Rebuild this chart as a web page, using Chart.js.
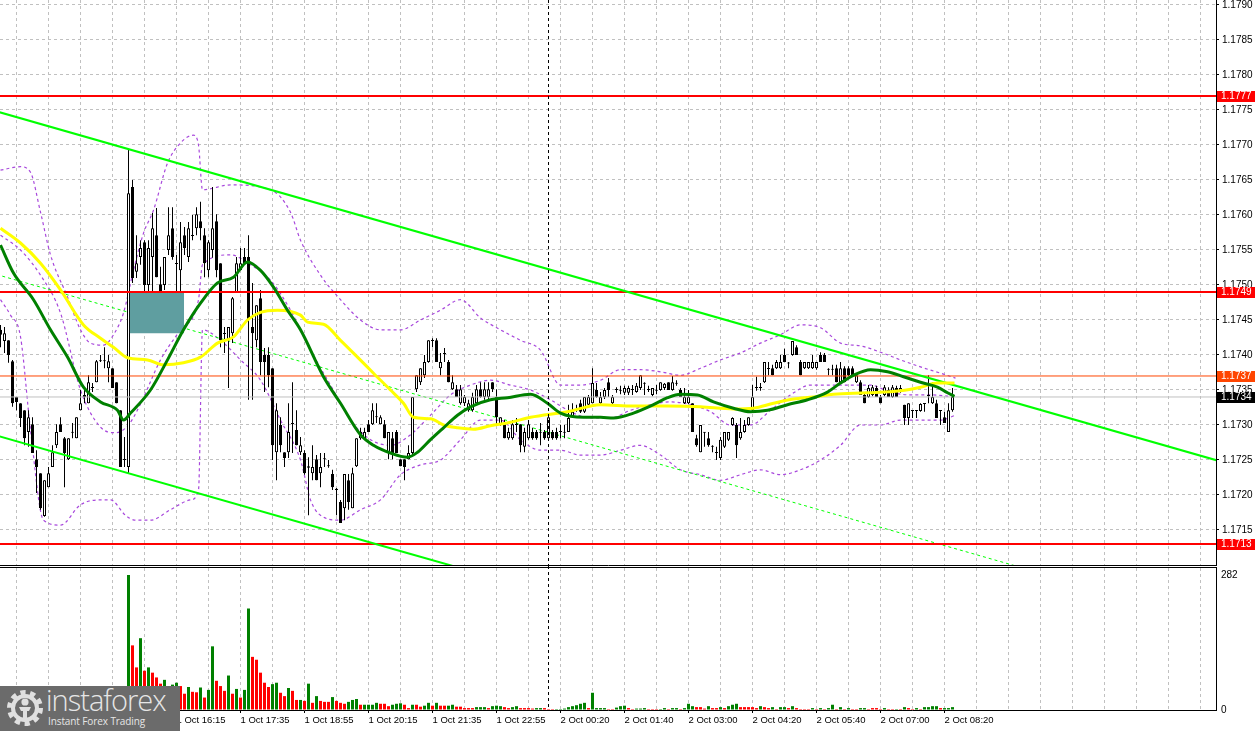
<!DOCTYPE html>
<html><head><meta charset="utf-8">
<script src="https://cdn.jsdelivr.net/npm/chart.js@4.4.1/dist/chart.umd.min.js"></script>
<style>
html,body{margin:0;padding:0;background:#fff;width:1257px;height:731px;overflow:hidden;}
#wrap{position:relative;width:1257px;height:731px;}
#pc{position:absolute;left:0;top:0;}
#vc{position:absolute;left:0;top:566px;}
#logo{position:absolute;left:0;top:686px;width:180px;height:45px;background:#6b6b6b;color:#e6e6e6;font-family:"Open Sans","Lato",sans-serif;overflow:hidden;}
#logo svg{position:absolute;left:5px;top:2px;}
#logo .big{position:absolute;left:46px;top:-3px;font-size:29px;letter-spacing:-1px;font-weight:300;line-height:34px;}
#logo .small{position:absolute;left:48px;top:29px;font-size:10px;letter-spacing:-0.1px;line-height:13px;}
</style></head><body>
<div id="wrap">
<canvas id="pc" width="1257" height="566"></canvas>
<canvas id="vc" width="1257" height="165"></canvas>
<div id="logo">
<svg width="40" height="40" viewBox="0 0 40 40">
<circle cx="20" cy="20" r="15" fill="none" stroke="#e0e0e0" stroke-width="6" stroke-dasharray="5 4.4"/>
<circle cx="20" cy="20" r="12" fill="none" stroke="#e0e0e0" stroke-width="4"/>
<circle cx="20" cy="14" r="3.6" fill="#e0e0e0"/>
<path d="M14 19 h12 l-2 4 h-2 v9 h-4 v-9 h-2 z" fill="#e0e0e0"/>
</svg>
<div class="big">instaforex</div>
<div class="small">Instant Forex Trading</div>
</div>
</div>
<script>
// ---------- data ----------
const candleOpen = [
1.17436,1.17420,1.17421,1.17391,1.17340,1.17331,1.17321,1.17290,1.17301,1.17251,
1.17231,1.17170,1.17211,1.17240,1.17271,1.17301,1.17281,1.17251,1.17290,1.17281,
1.17321,1.17340,1.17331,1.17353,1.17361,1.17391,1.17391,1.17381,1.17381,1.17361,
1.17321,1.17251,1.17240,1.17640,1.17519,1.17540,1.17561,1.17500,1.17540,1.17571,
1.17501,1.17500,1.17550,1.17581,1.17531,1.17521,1.17571,1.17540,1.17571,1.17581,
1.17591,1.17571,1.17521,1.17550,1.17591,1.17531,1.17431,1.17421,1.17431,1.17490,
1.17521,1.17540,1.17540,1.17440,1.17421,1.17481,1.17400,1.17400,1.17381,1.17261,
1.17300,1.17261,1.17261,1.17303,1.17293,1.17261,1.17260,1.17239,1.17231,1.17251,
1.17231,1.17251,1.17241,1.17230,1.17209,1.17190,1.17181,1.17221,1.17181,1.17241,
1.17281,1.17281,1.17301,1.17301,1.17311,1.17301,1.17301,1.17260,1.17281,1.17290,
1.17251,1.17251,1.17251,1.17260,1.17351,1.17361,1.17371,1.17390,1.17421,1.17421,
1.17381,1.17403,1.17390,1.17351,1.17351,1.17331,1.17331,1.17321,1.17321,1.17331,
1.17351,1.17340,1.17340,1.17361,1.17340,1.17301,1.17301,1.17281,1.17281,1.17300,
1.17301,1.17269,1.17281,1.17290,1.17290,1.17290,1.17290,1.17281,1.17290,1.17290,
1.17290,1.17289,1.17290,1.17311,1.17321,1.17331,1.17319,1.17329,1.17331,1.17350,
1.17331,1.17340,1.17361,1.17331,1.17350,1.17350,1.17346,1.17346,1.17350,1.17347,
1.17353,1.17360,1.17350,1.17343,1.17350,1.17350,1.17353,1.17361,1.17350,1.17360,
1.17350,1.17331,1.17331,1.17331,1.17281,1.17261,1.17290,1.17281,1.17270,1.17261,
1.17253,1.17269,1.17279,1.17300,1.17300,1.17281,1.17290,1.17300,1.17321,1.17353,
1.17353,1.17361,1.17381,1.17381,1.17381,1.17381,1.17400,1.17389,1.17400,1.17411,
1.17390,1.17381,1.17381,1.17381,1.17381,1.17400,1.17400,1.17379,1.17379,1.17381,
1.17361,1.17381,1.17381,1.17381,1.17361,1.17361,1.17343,1.17340,1.17343,1.17353,
1.17340,1.17343,1.17350,1.17340,1.17353,1.17347,1.17329,1.17310,1.17321,1.17321,
1.17320,1.17330,1.17343,1.17331,1.17331,1.17321,1.17311,1.17290,1.17321];
const candleHigh = [
1.17443,1.17440,1.17421,1.17393,1.17340,1.17331,1.17321,1.17321,1.17311,1.17264,
1.17231,1.17221,1.17240,1.17271,1.17301,1.17311,1.17283,1.17281,1.17303,1.17311,
1.17350,1.17353,1.17371,1.17360,1.17393,1.17400,1.17411,1.17400,1.17381,1.17361,
1.17321,1.17283,1.17693,1.17650,1.17571,1.17564,1.17564,1.17564,1.17603,1.17610,
1.17526,1.17540,1.17611,1.17611,1.17543,1.17590,1.17583,1.17590,1.17600,1.17611,
1.17619,1.17581,1.17564,1.17640,1.17601,1.17531,1.17440,1.17440,1.17483,1.17540,
1.17553,1.17553,1.17571,1.17503,1.17471,1.17493,1.17410,1.17411,1.17381,1.17331,
1.17311,1.17261,1.17331,1.17361,1.17321,1.17283,1.17264,1.17254,1.17271,1.17257,
1.17260,1.17260,1.17250,1.17236,1.17210,1.17193,1.17230,1.17230,1.17239,1.17281,
1.17296,1.17296,1.17307,1.17331,1.17331,1.17314,1.17307,1.17290,1.17290,1.17293,
1.17251,1.17251,1.17271,1.17340,1.17371,1.17381,1.17400,1.17421,1.17424,1.17424,
1.17403,1.17410,1.17393,1.17371,1.17357,1.17357,1.17343,1.17336,1.17346,1.17357,
1.17361,1.17361,1.17361,1.17361,1.17351,1.17311,1.17307,1.17296,1.17307,1.17310,
1.17301,1.17296,1.17307,1.17296,1.17293,1.17303,1.17293,1.17311,1.17293,1.17296,
1.17300,1.17300,1.17329,1.17331,1.17329,1.17336,1.17340,1.17343,1.17381,1.17360,
1.17347,1.17353,1.17367,1.17343,1.17354,1.17356,1.17356,1.17356,1.17357,1.17360,
1.17371,1.17361,1.17356,1.17353,1.17357,1.17361,1.17360,1.17361,1.17370,1.17364,
1.17353,1.17353,1.17350,1.17331,1.17286,1.17300,1.17290,1.17290,1.17271,1.17269,
1.17283,1.17290,1.17290,1.17311,1.17303,1.17310,1.17307,1.17311,1.17357,1.17369,
1.17360,1.17390,1.17390,1.17386,1.17393,1.17400,1.17409,1.17390,1.17420,1.17414,
1.17393,1.17390,1.17390,1.17400,1.17390,1.17404,1.17403,1.17381,1.17386,1.17386,
1.17390,1.17384,1.17384,1.17384,1.17371,1.17364,1.17346,1.17357,1.17357,1.17356,
1.17343,1.17357,1.17354,1.17357,1.17356,1.17357,1.17329,1.17331,1.17321,1.17321,
1.17331,1.17331,1.17371,1.17361,1.17336,1.17321,1.17319,1.17331,1.17353];
const candleLow = [
1.17411,1.17403,1.17389,1.17326,1.17321,1.17297,1.17271,1.17269,1.17260,1.17203,
1.17179,1.17169,1.17211,1.17240,1.17267,1.17290,1.17211,1.17250,1.17281,1.17281,
1.17321,1.17331,1.17331,1.17347,1.17361,1.17390,1.17381,1.17361,1.17353,1.17331,
1.17240,1.17240,1.17231,1.17503,1.17510,1.17529,1.17471,1.17450,1.17479,1.17511,
1.17440,1.17493,1.17543,1.17536,1.17490,1.17490,1.17543,1.17533,1.17564,1.17571,
1.17564,1.17511,1.17511,1.17539,1.17511,1.17411,1.17403,1.17353,1.17417,1.17489,
1.17521,1.17531,1.17336,1.17336,1.17411,1.17371,1.17347,1.17354,1.17250,1.17221,
1.17261,1.17240,1.17253,1.17260,1.17271,1.17257,1.17229,1.17171,1.17221,1.17221,
1.17211,1.17240,1.17239,1.17207,1.17171,1.17160,1.17164,1.17179,1.17181,1.17240,
1.17279,1.17279,1.17290,1.17300,1.17303,1.17301,1.17281,1.17251,1.17251,1.17260,
1.17241,1.17221,1.17251,1.17257,1.17347,1.17357,1.17367,1.17389,1.17411,1.17390,
1.17371,1.17390,1.17361,1.17350,1.17340,1.17329,1.17327,1.17319,1.17319,1.17329,
1.17339,1.17336,1.17336,1.17347,1.17300,1.17299,1.17281,1.17279,1.17279,1.17290,
1.17261,1.17261,1.17279,1.17279,1.17279,1.17271,1.17279,1.17279,1.17279,1.17279,
1.17281,1.17281,1.17290,1.17310,1.17319,1.17317,1.17317,1.17327,1.17331,1.17339,
1.17329,1.17337,1.17340,1.17329,1.17346,1.17344,1.17343,1.17343,1.17343,1.17346,
1.17350,1.17343,1.17347,1.17341,1.17344,1.17349,1.17350,1.17350,1.17349,1.17356,
1.17340,1.17330,1.17330,1.17290,1.17269,1.17261,1.17269,1.17269,1.17261,1.17250,
1.17250,1.17267,1.17277,1.17299,1.17253,1.17279,1.17289,1.17299,1.17320,1.17349,
1.17349,1.17360,1.17371,1.17371,1.17380,1.17380,1.17390,1.17381,1.17399,1.17400,
1.17371,1.17380,1.17380,1.17380,1.17379,1.17390,1.17390,1.17371,1.17371,1.17361,
1.17360,1.17361,1.17370,1.17370,1.17360,1.17343,1.17331,1.17339,1.17341,1.17340,
1.17331,1.17341,1.17340,1.17339,1.17340,1.17346,1.17300,1.17300,1.17310,1.17310,
1.17319,1.17319,1.17331,1.17330,1.17310,1.17300,1.17303,1.17290,1.17319];
const candleClose = [
1.17429,1.17431,1.17400,1.17331,1.17333,1.17310,1.17281,1.17311,1.17260,1.17240,
1.17181,1.17221,1.17231,1.17261,1.17290,1.17290,1.17260,1.17281,1.17289,1.17311,
1.17331,1.17343,1.17361,1.17353,1.17391,1.17391,1.17392,1.17391,1.17353,1.17331,
1.17240,1.17250,1.17631,1.17510,1.17531,1.17553,1.17500,1.17553,1.17581,1.17511,
1.17490,1.17540,1.17571,1.17540,1.17530,1.17561,1.17553,1.17581,1.17570,1.17601,
1.17581,1.17531,1.17561,1.17581,1.17521,1.17421,1.17430,1.17440,1.17481,1.17531,
1.17531,1.17531,1.17450,1.17431,1.17471,1.17390,1.17390,1.17371,1.17271,1.17321,
1.17271,1.17253,1.17290,1.17301,1.17271,1.17271,1.17231,1.17241,1.17240,1.17221,
1.17240,1.17252,1.17242,1.17211,1.17207,1.17160,1.17230,1.17190,1.17231,1.17281,
1.17290,1.17290,1.17290,1.17321,1.17312,1.17311,1.17281,1.17290,1.17260,1.17260,
1.17241,1.17240,1.17260,1.17340,1.17371,1.17381,1.17390,1.17421,1.17420,1.17390,
1.17390,1.17401,1.17361,1.17361,1.17340,1.17351,1.17340,1.17331,1.17340,1.17351,
1.17340,1.17351,1.17351,1.17351,1.17311,1.17311,1.17281,1.17290,1.17301,1.17301,
1.17271,1.17290,1.17301,1.17281,1.17281,1.17289,1.17281,1.17311,1.17281,1.17281,
1.17291,1.17290,1.17310,1.17319,1.17322,1.17319,1.17340,1.17340,1.17360,1.17340,
1.17340,1.17350,1.17350,1.17340,1.17351,1.17349,1.17353,1.17353,1.17351,1.17356,
1.17371,1.17359,1.17351,1.17353,1.17349,1.17361,1.17359,1.17350,1.17361,1.17359,
1.17340,1.17340,1.17340,1.17290,1.17271,1.17300,1.17289,1.17271,1.17269,1.17260,
1.17279,1.17290,1.17290,1.17310,1.17271,1.17290,1.17300,1.17311,1.17340,1.17354,
1.17354,1.17390,1.17380,1.17371,1.17390,1.17390,1.17390,1.17388,1.17420,1.17400,
1.17371,1.17390,1.17390,1.17390,1.17390,1.17390,1.17390,1.17380,1.17380,1.17361,
1.17381,1.17361,1.17371,1.17371,1.17371,1.17343,1.17331,1.17353,1.17354,1.17340,
1.17331,1.17354,1.17340,1.17354,1.17340,1.17353,1.17310,1.17331,1.17320,1.17320,
1.17330,1.17331,1.17341,1.17340,1.17310,1.17320,1.17303,1.17321,1.17340];

const volumes = [
22,18,26,30,24,20,34,28,38,24,36,42,30,26,22,20,32,28,20,18,24,22,30,18,26,22,20,28,24,30,38,44,
282,135,89,150,82,89,78,68,
55,63,50,53,57,50,34,48,38,37,
47,26,42,133,61,50,40,72,34,44,
26,42,212,111,105,78,57,48,54,57,
36,29,46,40,21,21,19,55,15,29,
19,17,17,27,19,15,13,17,21,23,
11,11,11,11,15,13,13,8,11,13,
14,11,4,11,11,7,9,15,9,15,
9,9,9,11,7,7,4,4,4,6,
6,6,4,8,9,8,6,4,6,8,
4,4,4,3,4,4,4,2,2,2,
2,3,6,8,10,13,15,4,36,4,
4,4,2,2,5,8,9,4,2,3,
3,4,2,2,2,2,4,2,4,4,
2,4,13,8,6,6,3,8,4,4,
6,4,8,11,13,6,6,6,6,4,
8,6,4,6,2,6,6,4,8,4,
2,2,2,4,2,4,2,4,11,2,
6,2,4,2,2,4,4,2,4,4,
2,4,2,2,2,2,6,4,2,4,
2,6,6,8,8,4,4,4,6];
const volumeUp = [
0,0,1,1,0,0,1,0,1,0,1,1,0,0,0,0,1,0,0,0,1,0,1,0,1,0,0,1,0,1,1,1,
1,0,0,1,0,1,0,0,
0,1,1,1,1,0,0,1,0,0,
1,0,1,1,0,0,0,1,0,1,
0,1,1,0,0,0,0,0,1,1,
0,0,1,0,0,1,0,1,0,1,
0,0,0,1,0,0,0,1,1,1,
0,1,1,1,1,0,0,0,1,1,
1,0,0,1,0,0,1,1,0,1,
0,0,1,1,0,0,0,0,0,1,
1,1,0,1,1,1,0,0,1,1,
0,0,0,0,1,1,0,0,0,1,
1,1,1,1,1,1,1,0,1,1,
1,1,0,0,1,1,1,0,0,1,
1,1,0,0,0,1,1,0,1,1,
0,1,1,1,0,0,0,1,0,0,
1,0,1,1,1,0,0,0,0,0,
1,0,0,1,0,1,1,0,1,0,
0,0,0,1,0,1,0,1,1,0,
1,0,1,0,0,1,1,0,0,0,
0,1,0,0,1,0,1,0,0,1,
0,1,1,1,1,0,1,1,1];

// moving averages and Bollinger bands: [bar index, price]
const maGreen = [[0,1.17557],[3.25,1.17517],[8.25,1.17479],[12.5,1.17436],[16.75,1.17397],[20.75,1.17354],[25,1.17333],[29.25,1.17321],[30.75,1.17307],[32.5,1.17317],[37.5,1.17350],[41.75,1.17393],[45.75,1.17436],[50,1.17474],[54.25,1.17503],[58.25,1.17511],[61.75,1.17533],[65,1.17521],[68.25,1.17497],[71.75,1.17464],[75,1.17436],[80.75,1.17369],[85,1.17331],[90,1.17286],[93.25,1.17271],[97.5,1.17260],[101.75,1.17254],[104.25,1.17261],[107.5,1.17279],[110.75,1.17296],[114.25,1.17314],[117.5,1.17326],[122.5,1.17336],[126.75,1.17339],[132.5,1.17344],[136.75,1.17331],[140,1.17317],[145.75,1.17311],[150,1.17311],[153.25,1.17310],[158.25,1.17317],[163.25,1.17329],[166.75,1.17339],[170,1.17344],[174.25,1.17343],[178.25,1.17333],[183.25,1.17324],[187.5,1.17319],[191.75,1.17321],[196.75,1.17329],[201.75,1.17336],[206.75,1.17347],[210,1.17360],[213.25,1.17371],[217.5,1.17379],[221.75,1.17376],[225.75,1.17369],[230,1.17361],[234.25,1.17354],[236.75,1.17346],[238.5,1.17341]];
const maYellow = [[0,1.17581],[5,1.17560],[10,1.17531],[15,1.17493],[20.75,1.17443],[25,1.17424],[28.25,1.17411],[31.75,1.17396],[36.75,1.17393],[40.75,1.17386],[45.75,1.17389],[50,1.17397],[54.25,1.17417],[58.25,1.17426],[61.75,1.17450],[65,1.17461],[69.25,1.17464],[75,1.17457],[76.75,1.17447],[80.75,1.17444],[85,1.17421],[89.25,1.17397],[93.25,1.17374],[97.5,1.17350],[100.75,1.17331],[103.25,1.17311],[107.5,1.17309],[110.75,1.17300],[114.25,1.17296],[118.25,1.17294],[122.5,1.17299],[127.5,1.17304],[132.5,1.17311],[141.75,1.17319],[150,1.17329],[158.25,1.17327],[166.75,1.17327],[175,1.17326],[183.25,1.17323],[188.25,1.17324],[193.25,1.17331],[198.25,1.17337],[203.25,1.17340],[208.25,1.17344],[216.75,1.17346],[225,1.17349],[230,1.17354],[234.25,1.17360],[238.5,1.17360]];
const bbUpper = [[0,1.17664],[5,1.17669],[7.5,1.17661],[10,1.17604],[12.5,1.17543],[16.75,1.17483],[20,1.17436],[22.5,1.17417],[25.75,1.17414],[28.25,1.17429],[30.75,1.17460],[33.25,1.17521],[35.75,1.17574],[38.25,1.17607],[41.75,1.17674],[45,1.17703],[48.25,1.17714],[49.5,1.17700],[50.5,1.17636],[57.5,1.17643],[67.5,1.17636],[72.5,1.17604],[75,1.17564],[80,1.17514],[85,1.17479],[90,1.17450],[95,1.17436],[100,1.17436],[105,1.17450],[110,1.17464],[115,1.17479],[120,1.17453],[125,1.17436],[130,1.17421],[135,1.17407],[140,1.17357],[145,1.17357],[150,1.17364],[155,1.17379],[160,1.17379],[165,1.17376],[170,1.17371],[175,1.17381],[180,1.17393],[185,1.17403],[190,1.17417],[195,1.17429],[200,1.17443],[205,1.17439],[210,1.17417],[215,1.17413],[220,1.17404],[225,1.17393],[230,1.17383],[235,1.17374],[238.75,1.17367]];
const bbMiddle = [[0,1.17571],[5,1.17550],[10,1.17514],[15,1.17460],[20,1.17350],[25,1.17297],[28.75,1.17289],[32,1.17300],[35,1.17330],[40,1.17393],[45,1.17436],[49.5,1.17479],[50.5,1.17529],[57.5,1.17543],[62.5,1.17529],[67.5,1.17507],[72.5,1.17464],[77.5,1.17407],[82.5,1.17357],[87.5,1.17307],[92.5,1.17279],[97.5,1.17271],[102.5,1.17286],[107.5,1.17314],[112.5,1.17343],[117.5,1.17357],[122.5,1.17364],[127.5,1.17357],[132.5,1.17350],[137.5,1.17336],[142.5,1.17319],[147.5,1.17310],[152.5,1.17310],[157.5,1.17321],[162.5,1.17329],[167.5,1.17333],[172.5,1.17329],[177.5,1.17319],[182.5,1.17300],[187.5,1.17300],[192.5,1.17321],[197.5,1.17343],[202.5,1.17357],[207.5,1.17357],[212.5,1.17357],[217.5,1.17357],[222.5,1.17347],[227.5,1.17343],[232.5,1.17343],[238.75,1.17340]];
const bbLower = [[0,1.17479],[2.5,1.17457],[5,1.17426],[7.5,1.17293],[10.75,1.17164],[15,1.17157],[20,1.17186],[25,1.17193],[27.5,1.17193],[31.25,1.17171],[33.75,1.17164],[37.5,1.17164],[42.5,1.17179],[47.5,1.17193],[49.5,1.17207],[50.5,1.17436],[55,1.17421],[60,1.17393],[65,1.17364],[70,1.17307],[75,1.17250],[77.5,1.17193],[80,1.17171],[85,1.17164],[90,1.17179],[95,1.17193],[100,1.17229],[105,1.17243],[110,1.17250],[115,1.17279],[120,1.17307],[125,1.17307],[130,1.17279],[135,1.17264],[140,1.17264],[145,1.17257],[150,1.17257],[155,1.17264],[160,1.17271],[165,1.17257],[170,1.17236],[175,1.17229],[180,1.17221],[185,1.17229],[190,1.17236],[195,1.17229],[200,1.17236],[205,1.17250],[210,1.17271],[215,1.17300],[220,1.17300],[225,1.17307],[230,1.17307],[235,1.17307],[238.75,1.17314]];

// drawn objects
const trendUpper = [[-1,1.17748],[305,1.17248]];
const trendLower = [[-1,1.17285],[305,1.16785]];
const trendMid = [[-1,1.17515],[305,1.17015]];
const levelRed = [1.1777, 1.1749, 1.1713];
const askLevel = 1.1737;
const bidLevel = 1.1734;
const zoneX = [32.3, 45.9];
const zoneY = [1.17431, 1.1749];
const separatorIdx = 137;
const markerValues = [1.1777, 1.1749, 1.1737, 1.1734, 1.1713];
const markerColors = ['#ff0000', '#ff0000', '#ff4500', '#000000', '#ff0000'];

// axes
const priceTicks = [1.1715,1.172,1.1725,1.173,1.1735,1.174,1.1745,1.175,1.1755,1.176,1.1765,1.177,1.1775,1.178,1.1785,1.179];
const volumeTicks = [0, 282];
const timeLabels = ['1 Oct 13:35','1 Oct 14:55','1 Oct 16:15','1 Oct 17:35','1 Oct 18:55','1 Oct 20:15','1 Oct 21:35','1 Oct 22:55','2 Oct 00:20','2 Oct 01:40','2 Oct 03:00','2 Oct 04:20','2 Oct 05:40','2 Oct 07:00','2 Oct 08:20'];
const timeLabelIdx = [12,28,44,60,76,92,108,124,140,156,172,188,204,220,236];

// ---------- layout constants ----------
const X_MIN = -0.125, X_MAX = 303.875;
const P_MAX = 1.1790714, P_MIN = 1.1710;
const V_MAX = 296.6;
const gridIdx = []; for (let k = 0; k < 38; k++) gridIdx.push(4 + 8 * k);

function fontOK(name) {
  const c = document.createElement('canvas').getContext('2d');
  const t = '1.1790 1 Oct 17:35';
  c.font = '40px monospace'; const w1 = c.measureText(t).width;
  c.font = '40px "' + name + '", monospace';
  return Math.abs(c.measureText(t).width - w1) > 0.5;
}
const narrow = fontOK('Liberation Sans Narrow');
const Y_FONT = narrow ? {family: '"Liberation Sans Narrow", "Liberation Sans", sans-serif', size: 11}
                      : {family: '"Liberation Sans", Arial, sans-serif', size: 10};
const X_FONT = narrow ? {family: '"Liberation Sans Narrow", "Liberation Sans", sans-serif', size: 11}
                      : {family: '"Liberation Sans", Arial, sans-serif', size: 9.5};
const GRID = '#c0c0c0';
const BB_COLOR = '#a848dc';

const pts = arr => arr.map(p => ({x: p[0], y: p[1]}));
const idx = candleOpen.map((_, i) => i);

function xAxis(showLabels) {
  return {
    type: 'linear', min: X_MIN, max: X_MAX, offset: false,
    afterBuildTicks: s => { s.ticks = gridIdx.map(v => ({value: v})); },
    ticks: {
      display: showLabels, autoSkip: false, maxRotation: 0, minRotation: 0, align: 'start',
      padding: 2, color: '#000', font: X_FONT,
      callback: v => { const k = timeLabelIdx.indexOf(v); return k >= 0 ? timeLabels[k] : ''; }
    },
    grid: {
      offset: false, color: GRID, lineWidth: 1, drawTicks: showLabels, tickLength: 3, tickWidth: 1,
      tickColor: c => (c.tick && timeLabelIdx.includes(c.tick.value)) ? '#000' : 'rgba(0,0,0,0)'
    },
    border: {display: true, color: '#000', width: 1, dash: [3, 3]},
    afterFit: s => { s.height = showLabels ? 21 : 1; s.paddingLeft = 0; s.paddingRight = 0; }
  };
}

const separatorPlugin = {
  id: 'separator',
  afterDatasetsDraw(chart) {
    const {ctx, chartArea} = chart;
    const x = Math.round(chart.scales.x.getPixelForValue(separatorIdx) - 0.5) + 0.5;
    ctx.save();
    ctx.strokeStyle = '#000'; ctx.lineWidth = 1; ctx.setLineDash([3, 3]);
    ctx.beginPath(); ctx.moveTo(x, 0); ctx.lineTo(x, chartArea.bottom); ctx.stroke();
    ctx.restore();
  }
};

const markerPlugin = {
  id: 'markers',
  afterDraw(chart) {
    const {ctx} = chart;
    const y = chart.scales.y;
    ctx.save();
    ctx.font = Y_FONT.size + 'px ' + Y_FONT.family;
    ctx.textBaseline = 'middle'; ctx.textAlign = 'left';
    markerValues.forEach((v, i) => {
      const py = Math.round(y.getPixelForValue(v));
      ctx.fillStyle = markerColors[i];
      ctx.fillRect(1217, py - 5, 38, 11);
      ctx.fillStyle = '#fff';
      ctx.fillText(v.toFixed(4), 1221, py + 0.5);
    });
    ctx.restore();
  }
};

const hline = (v, color, w) => ({
  type: 'line', data: [{x: -1, y: v}, {x: 305, y: v}], borderColor: color, borderWidth: w,
  pointRadius: 0, order: 10
});
const lineDs = (arr, color, w, dash, order) => ({
  type: 'line', data: pts(arr), borderColor: color, borderWidth: w, borderDash: dash,
  pointRadius: 0, cubicInterpolationMode: 'monotone', fill: false, order: order
});

new Chart(document.getElementById('pc'), {
  type: 'bar',
  data: {
    datasets: [
      lineDs(bbUpper, BB_COLOR, 1.2, [3, 3], 20),
      lineDs(bbMiddle, BB_COLOR, 1.2, [3, 3], 20),
      lineDs(bbLower, BB_COLOR, 1.2, [3, 3], 20),
      lineDs(trendMid, '#00ff00', 1, [3, 3], 18),
      {type: 'bar', data: idx.map(i => ({x: i, y: [candleLow[i], candleHigh[i]]})),
       backgroundColor: '#000', barThickness: 1, grouped: false, inflateAmount: 0, borderWidth: 0, order: 15},
      {type: 'bar', data: idx.map(i => ({x: i, y: [candleOpen[i], candleClose[i]]})),
       backgroundColor: c => candleClose[c.dataIndex] >= candleOpen[c.dataIndex] ? '#ffffff' : '#000000',
       borderColor: '#000', borderWidth: 1, borderSkipped: false, barThickness: 3, grouped: false,
       minBarLength: 1, inflateAmount: 0, order: 14},
      {type: 'line', data: [{x: zoneX[0], y: zoneY[1]}, {x: zoneX[1], y: zoneY[1]}],
       borderWidth: 0, borderColor: 'rgba(0,0,0,0)', pointRadius: 0,
       fill: {value: zoneY[0]}, backgroundColor: '#5f9ea0', order: 12},
      ...levelRed.map(v => hline(v, '#ff0000', 2)),
      hline(askLevel, '#ff4500', 1),
      hline(bidLevel, '#c0c0c0', 1),
      lineDs(trendUpper, '#00ff00', 2, [], 8),
      lineDs(trendLower, '#00ff00', 2, [], 8),
      lineDs(maYellow, '#ffff00', 3, [], 3),
      lineDs(maGreen, '#008000', 3, [], 2)
    ]
  },
  options: {
    responsive: false, animation: false, events: [],
    layout: {padding: 0},
    plugins: {legend: {display: false}, tooltip: {enabled: false}},
    scales: {
      x: xAxis(false),
      y: {
        type: 'linear', position: 'right', min: P_MIN, max: P_MAX, beginAtZero: false,
        afterBuildTicks: s => { s.ticks = priceTicks.map(v => ({value: v})); },
        ticks: {color: '#000', font: Y_FONT, padding: 3, autoSkip: false, callback: v => v.toFixed(4)},
        grid: {color: GRID, lineWidth: 1, drawTicks: true, tickLength: 3, tickColor: '#000', tickWidth: 1},
        border: {display: true, color: '#000', width: 1, dash: [3, 3]},
        afterFit: s => { s.width = 41; s.paddingTop = 0; s.paddingBottom = 0; }
      }
    }
  },
  plugins: [separatorPlugin, markerPlugin]
});

const volTopPlugin = {
  id: 'voltop',
  afterDraw(chart) {
    const {ctx} = chart;
    ctx.save(); ctx.fillStyle = '#000'; ctx.fillRect(0, 1, 1217, 1); ctx.restore();
  }
};

new Chart(document.getElementById('vc'), {
  type: 'bar',
  data: {
    datasets: [{
      type: 'bar', data: idx.map(i => ({x: i, y: volumes[i]})),
      backgroundColor: c => volumeUp[c.dataIndex] ? '#008000' : '#ff0000',
      barThickness: 3, grouped: false, inflateAmount: 0, borderWidth: 0
    }]
  },
  options: {
    responsive: false, animation: false, events: [],
    layout: {padding: {top: 2, left: 0, right: 0, bottom: 0}},
    plugins: {legend: {display: false}, tooltip: {enabled: false}},
    scales: {
      x: xAxis(true),
      y: {
        type: 'linear', position: 'right', min: 0, max: V_MAX,
        afterBuildTicks: s => { s.ticks = volumeTicks.map(v => ({value: v})); },
        ticks: {color: '#000', font: Y_FONT, padding: 5, autoSkip: false, callback: v => String(v)},
        grid: {drawOnChartArea: false, drawTicks: false},
        border: {display: true, color: '#000', width: 1},
        afterFit: s => { s.width = 41; s.paddingTop = 0; s.paddingBottom = 0; }
      }
    }
  },
  plugins: [separatorPlugin, volTopPlugin]
});
</script>
</body></html>
